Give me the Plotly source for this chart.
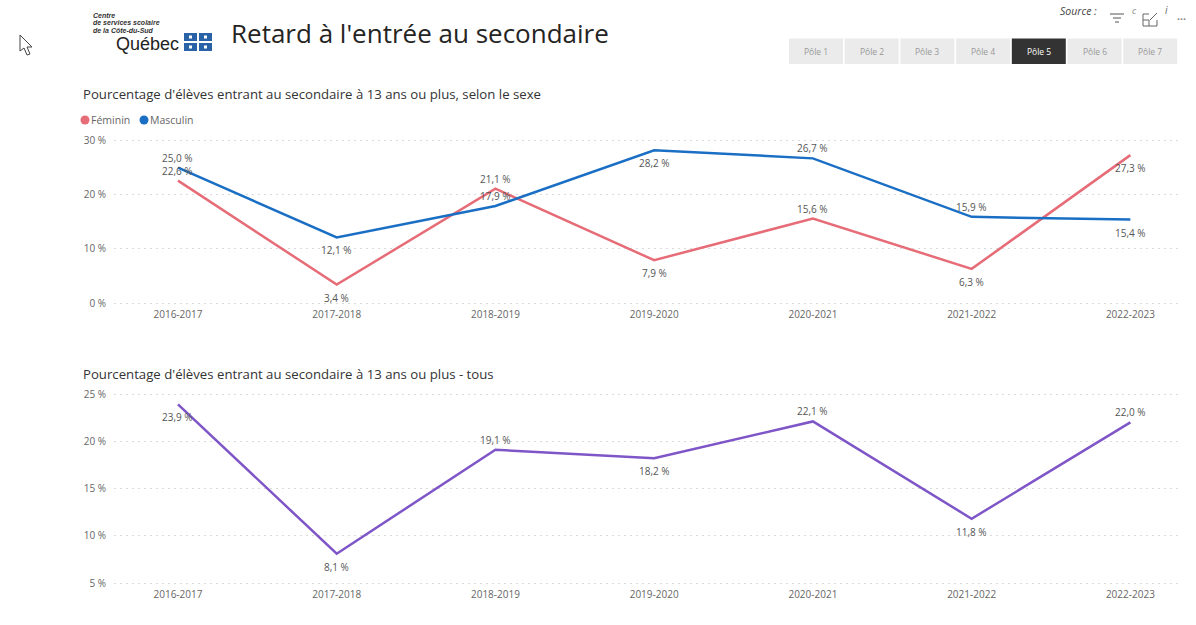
import plotly.graph_objects as go

W, H = 1196, 625
years = ["2016-2017", "2017-2018", "2018-2019", "2019-2020", "2020-2021", "2021-2022", "2022-2023"]
feminin = [22.6, 3.4, 21.1, 7.9, 15.6, 6.3, 27.3]
masculin = [25.0, 12.1, 17.9, 28.2, 26.7, 15.9, 15.4]
tous = [23.9, 8.1, 19.1, 18.2, 22.1, 11.8, 22.0]
# label side per point: 1 above the line, -1 below it
feminin_side = [1, -1, 1, -1, 1, -1, -1]
masculin_side = [1, -1, 1, -1, 1, 1, -1]
tous_side = [-1, -1, 1, -1, 1, -1, 1]
ticks_top = [0, 10, 20, 30]
ticks_bottom = [5, 10, 15, 20, 25]
poles = ["Pôle 1", "Pôle 2", "Pôle 3", "Pôle 4", "Pôle 5", "Pôle 6", "Pôle 7"]
active_pole = "Pôle 5"

FONT = "Open Sans"
RED, BLUE, PURPLE = "#E66C77", "#1A6FC4", "#7F56C8"


def fr(v):
    return f"{v:.1f}".replace(".", ",") + " %"


def px(x):
    return x / W


def py(y):
    return 1 - y / H


fig = go.Figure()
ann, shapes = [], []


def line(vals, color, sides, xa, ya, name):
    fig.add_trace(go.Scatter(
        x=years, y=vals, mode="lines", name=name, showlegend=False,
        line=dict(color=color, width=2.5), xaxis=xa, yaxis=ya,
    ))
    for yr, v, s in zip(years, vals, sides):
        ann.append(dict(x=yr, y=v, xref=xa, yref=ya, text=fr(v), showarrow=False,
                        xanchor="center", yanchor="middle", yshift=10 if s > 0 else -13,
                        font=dict(family=FONT, size=10, color="#555555")))


line(feminin, RED, feminin_side, "x", "y", "Féminin")
line(masculin, BLUE, masculin_side, "x", "y", "Masculin")
line(tous, PURPLE, tous_side, "x2", "y2", "Tous")

xcommon = dict(type="category", range=[-0.403, 6.30], showgrid=False, zeroline=False, showline=False,
               ticks="", ticklabelstandoff=1, tickfont=dict(family=FONT, size=10, color="#666666"))
ycommon = dict(showline=False, zeroline=False, ticks="", ticklabelstandoff=7,
               gridcolor="#DADADA", griddash="1.5px,4.5px", gridwidth=1,
               tickfont=dict(family=FONT, size=10, color="#666666"))

fig.update_layout(
    width=W, height=H, autosize=False,
    margin=dict(l=0, r=0, t=0, b=0, autoexpand=False),
    paper_bgcolor="white", plot_bgcolor="white",
    font=dict(family=FONT),
    showlegend=False,
    xaxis=dict(domain=[px(114), px(1178)], anchor="y", **xcommon),
    yaxis=dict(domain=[py(305.5), py(138)], anchor="x", range=[-0.4615, 30.4615], tickmode="array",
               tickvals=ticks_top, ticktext=[f"{t} %" for t in ticks_top], **ycommon),
    xaxis2=dict(domain=[px(114), px(1178)], anchor="y2", **xcommon),
    yaxis2=dict(domain=[py(585.5), py(391.5)], anchor="x2", range=[4.7354, 25.2646], tickmode="array",
                tickvals=ticks_bottom, ticktext=[f"{t} %" for t in ticks_bottom], **ycommon),
)


def text(x, y, s, size, color="#333333", anchor="left", **kw):
    ann.append(dict(x=px(x), y=py(y), xref="paper", yref="paper", text=s, showarrow=False,
                    xanchor=anchor, yanchor="middle", font=dict(family=kw.pop("family", FONT), size=size, color=color),
                    **kw))


text(229, 33, "Retard à l'entrée au secondaire", 26, "#252423")
text(81, 94, "Pourcentage d'élèves entrant au secondaire à 13 ans ou plus, selon le sexe", 13.2, "#333333")
text(81, 374, "Pourcentage d'élèves entrant au secondaire à 13 ans ou plus - tous", 13.2, "#333333")
text(1058, 11, "<i>Source :</i>", 10.5, "#444444")
text(1130, 10, "<i>c</i>", 9, "#888888")
text(1163, 10, "<i>i</i>", 10, "#666666")
text(1175, 18, "•••", 8, "#888888")

# legend
for cx, label, color in ((85, "Féminin", RED), (144, "Masculin", BLUE)):
    shapes.append(dict(type="circle", xref="paper", yref="paper", x0=px(cx - 4.5), x1=px(cx + 4.5),
                       y0=py(115.5), y1=py(124.5), fillcolor=color, line_width=0))
    text(cx + 4, 120, label, 10.5, "#666666")

# logo
text(91, 15, "<b><i>Centre</i></b>", 7, "#333333", family="Liberation Sans")
text(91, 23, "<b><i>de services scolaire</i></b>", 7, "#333333", family="Liberation Sans")
text(91, 31, "<b><i>de la Côte-du-Sud</i></b>", 7, "#333333", family="Liberation Sans")
text(114, 44, "Québec", 18, "#222222", family="Liberation Sans")
for x0 in (184, 199):
    for y0 in (33, 43):
        shapes.append(dict(type="rect", xref="paper", yref="paper", x0=px(x0), x1=px(x0 + 13),
                           y0=py(y0), y1=py(y0 + 8), fillcolor="#2A62A8", line_width=0))
        shapes.append(dict(type="rect", xref="paper", yref="paper", x0=px(x0 + 5), x1=px(x0 + 8),
                           y0=py(y0 + 2.5), y1=py(y0 + 5.5), fillcolor="white", line_width=0))

# pole buttons
for i, p in enumerate(poles):
    x0 = 789 + i * 55.7
    on = p == active_pole
    shapes.append(dict(type="rect", xref="paper", yref="paper", x0=px(x0), x1=px(x0 + 54),
                       y0=py(38.5), y1=py(64), fillcolor="#333333" if on else "#EBEBEB", line_width=0))
    text(x0 + 27, 51.5, p, 8.5, "#FFFFFF" if on else "#999999", anchor="center")


def path(points, close=False):
    pts = [f"{px(x):.5f} {py(y):.5f}" for x, y in points]
    return "M " + " L ".join(pts) + (" Z" if close else "")


# cursor
shapes.append(dict(type="path", xref="paper", yref="paper",
                   path=path([(20, 35), (20, 51), (24, 48), (27, 55), (30, 54), (27, 47), (32, 47)], True),
                   fillcolor="white", line=dict(color="#444444", width=1)))

# filter icon
for x0, x1, y0 in ((1110, 1124, 14), (1113, 1121, 18), (1115, 1119, 22)):
    shapes.append(dict(type="line", xref="paper", yref="paper", x0=px(x0), x1=px(x1), y0=py(y0), y1=py(y0),
                       line=dict(color="#555555", width=1)))
# expand icon
shapes.append(dict(type="path", xref="paper", yref="paper",
                   path=path([(1149, 14), (1143, 14), (1143, 26), (1157, 26), (1157, 20)]),
                   line=dict(color="#666666", width=1)))
shapes.append(dict(type="line", xref="paper", yref="paper", x0=px(1150), x1=px(1157), y0=py(20), y1=py(13),
                   line=dict(color="#666666", width=1)))
shapes.append(dict(type="path", xref="paper", yref="paper",
                   path=path([(1143, 20), (1149, 20), (1149, 26)]),
                   line=dict(color="#666666", width=1)))

fig.update_layout(shapes=shapes, annotations=ann)
fig.write_html("out.html", config={"displayModeBar": False},
               post_script="document.body.style.margin='0';")
